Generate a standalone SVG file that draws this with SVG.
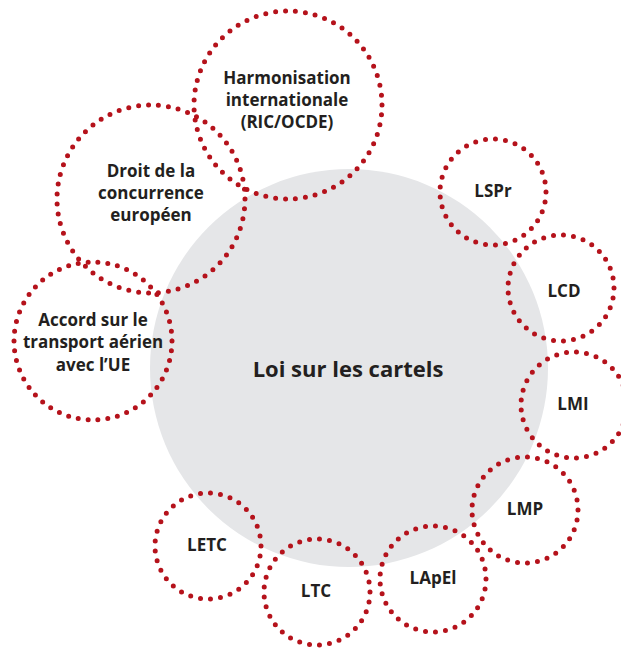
<svg xmlns="http://www.w3.org/2000/svg" width="621" height="648" viewBox="0 0 621 648">
<style>
.ring{fill:none;stroke:#b5121b;stroke-width:5;stroke-linecap:round;stroke-dasharray:0 1}
.t{font-family:"Open Sans","Noto Sans","Liberation Sans",sans-serif;font-weight:700;font-size:17px;fill:#231f20;text-anchor:middle}
.big{font-size:22px}
</style>
<rect width="621" height="648" fill="#ffffff"/>
<g id="center">
<circle cx="349" cy="368" r="199" fill="#e5e6e8"/>
<text class="t big" x="348" y="377">Loi sur les cartels</text>
</g>
<g id="harmonisation">
<circle class="ring" cx="288" cy="105" r="94" pathLength="59"/>
<text class="t" x="287" y="84">Harmonisation</text>
<text class="t" x="287" y="106">internationale</text>
<text class="t" x="287" y="128">(RIC/OCDE)</text>
</g>
<g id="droit">
<circle class="ring" cx="151" cy="199" r="94" pathLength="59"/>
<text class="t" x="151" y="177">Droit de la</text>
<text class="t" x="151" y="199">concurrence</text>
<text class="t" x="151" y="221">européen</text>
</g>
<g id="accord">
<circle class="ring" cx="93" cy="341" r="79" pathLength="50"/>
<text class="t" x="93" y="326">Accord sur le</text>
<text class="t" x="93" y="348">transport aérien</text>
<text class="t" x="93" y="371">avec l’UE</text>
</g>
<g id="lspr">
<circle class="ring" cx="493" cy="192" r="53" pathLength="33"/>
<text class="t" x="493" y="197">LSPr</text>
</g>
<g id="lcd">
<circle class="ring" cx="561" cy="288" r="53" pathLength="33"/>
<text class="t" x="564" y="297">LCD</text>
</g>
<g id="lmi">
<circle class="ring" cx="574" cy="405" r="53" pathLength="33"/>
<text class="t" x="573" y="410">LMI</text>
</g>
<g id="lmp">
<circle class="ring" cx="525" cy="510" r="53" pathLength="33"/>
<text class="t" x="525" y="515">LMP</text>
</g>
<g id="lapel">
<circle class="ring" cx="433" cy="579" r="53" pathLength="33"/>
<text class="t" x="433" y="584">LApEl</text>
</g>
<g id="ltc">
<circle class="ring" cx="317" cy="592" r="53" pathLength="33"/>
<text class="t" x="316" y="597">LTC</text>
</g>
<g id="letc">
<circle class="ring" cx="208" cy="546" r="53" pathLength="33"/>
<text class="t" x="207" y="551">LETC</text>
</g>
</svg>
